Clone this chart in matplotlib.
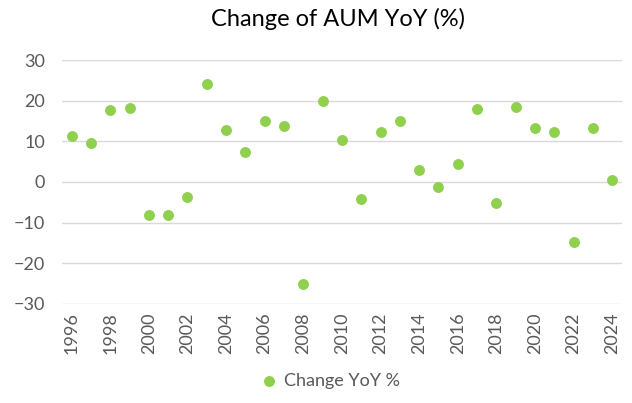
import matplotlib
matplotlib.use("Agg")
import matplotlib.pyplot as plt

years = list(range(1996, 2025))
change_yoy = [11.2, 9.5, 17.7, 18.1, -8.1, -8.1, -3.6, 24.0, 12.8, 7.3,
              15.1, 13.8, -25.1, 19.9, 10.4, -4.2, 12.4, 15.0, 2.9, -1.3,
              4.3, 17.9, -5.3, 18.4, 13.3, 12.2, -14.8, 13.3, 0.6]
yticks = [-30, -20, -10, 0, 10, 20, 30]

plt.rcParams['font.family'] = ['Lato', 'DejaVu Sans']

fig = plt.figure(figsize=(6.32, 4.03), dpi=100)
ax = fig.add_axes([0.098, 0.246, 0.886, 0.605])

xpos = list(range(len(years)))
ax.scatter(xpos, change_yoy, s=62, color='#8FD14F', zorder=3,
           label='Change YoY %', linewidths=0)

ax.set_xlim(-0.5, len(years) - 0.5)
ax.set_ylim(-30, 30)
ax.set_yticks(yticks)
ax.set_xticks(xpos[::2])
ax.set_xticklabels([str(y) for y in years[::2]], rotation=90)
ax.yaxis.grid(True, color='#D9D9D9', linewidth=1.0, zorder=0)
ax.set_axisbelow(True)
for s in ax.spines.values():
    s.set_visible(False)
ax.tick_params(axis='both', length=0, labelsize=13, labelcolor='#595959')
ax.tick_params(axis='y', pad=12)
ax.tick_params(axis='x', pad=6)

fig.suptitle('Change of AUM YoY (%)', x=0.535, y=0.98, fontsize=17, color='#000000')

fig.legend(loc='lower center', bbox_to_anchor=(0.515, -0.005), frameon=False,
           fontsize=13, labelcolor='#595959', handletextpad=-0.2,
           markerscale=1.0)

fig.savefig('out.png', dpi=100)
